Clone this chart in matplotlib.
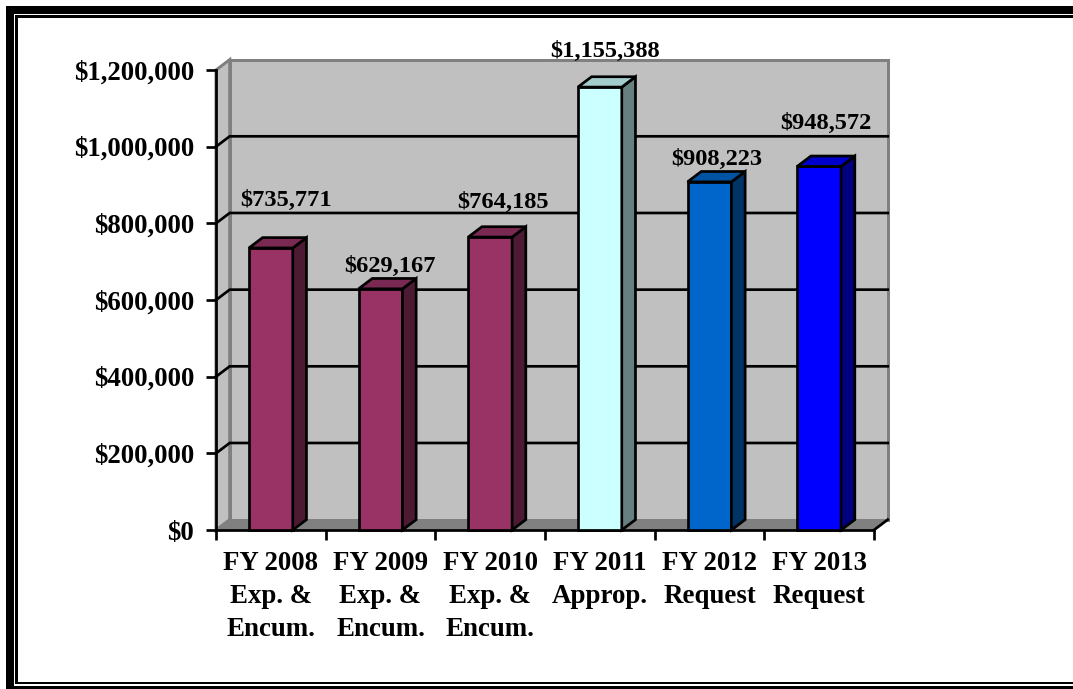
import matplotlib
matplotlib.use("Agg")
import matplotlib.pyplot as plt
from matplotlib.patches import Polygon, Rectangle

plt.rcParams["font.family"] = ["Liberation Serif", "DejaVu Serif"]
plt.rcParams["font.weight"] = "bold"

# --------------------------------------------------------------
# Data
# --------------------------------------------------------------
categories = ["FY 2008\nExp. &\nEncum.", "FY 2009\nExp. &\nEncum.", "FY 2010\nExp. &\nEncum.",
              "FY 2011\nApprop.", "FY 2012\nRequest", "FY 2013\nRequest"]
values = [735771, 629167, 764185, 1155388, 908223, 948572]
y_ticks = [0, 200000, 400000, 600000, 800000, 1000000, 1200000]

# front, side, top
bar_colors = [("#993366", "#4d1a33", "#7a2952"), ("#993366", "#4d1a33", "#7a2952"),
              ("#993366", "#4d1a33", "#7a2952"), ("#ccffff", "#668080", "#a3cccc"),
              ("#0066cc", "#003366", "#0052a3"), ("#0000ff", "#000080", "#0000cc")]
# label offset from the bar's top centre, in pixels
label_offsets = [(15, 48), (9, 22), (13, 35), (5, 36), (7, 22), (7, 43)]

W, H = 1073, 689
PT = 72 / 100  # one pixel in points
LINE = 2.7 * PT
DEPTH_X = 0.125  # in categories
DEPTH_Y = 27000  # in dollars
BAR_W = 0.4

fig = plt.figure(figsize=(W / 100, H / 100), dpi=100)
ax = fig.add_axes([216 / W, 1 - 530 / H, 658 / W, 460 / H])
ax.set_xlim(0, 6)
ax.set_ylim(0, 1200000)
ax.patch.set_visible(False)
for s in ax.spines.values():
    s.set_visible(False)

# page frame
def frame(x0, y0, x1, y1):
    fig.add_artist(Rectangle((x0 / W, 1 - y1 / H), (x1 - x0) / W, (y1 - y0) / H, transform=fig.transFigure,
                             facecolor="black", edgecolor="none"))

frame(6, 6, W, 14)
frame(15, 15.5, W, 17.5)
frame(6, 6, 14, H)
frame(15, 15.5, 17.5, 684)
frame(15, 682, W, 684)
frame(6, 686, W, H)

top = y_ticks[-1]
wall = dict(facecolor="#c0c0c0", edgecolor="#808080", linewidth=3 * PT, clip_on=False, joinstyle="miter")

# back wall, side wall and floor
ax.add_patch(Polygon([(DEPTH_X, DEPTH_Y), (6 + DEPTH_X, DEPTH_Y), (6 + DEPTH_X, top + DEPTH_Y), (DEPTH_X, top + DEPTH_Y)],
                     zorder=1, **wall))
ax.add_patch(Polygon([(0, 0), (DEPTH_X, DEPTH_Y), (DEPTH_X, top + DEPTH_Y), (0, top)], zorder=1, **wall))
ax.add_patch(Polygon([(0, 0), (6, 0), (6 + DEPTH_X, DEPTH_Y), (DEPTH_X, DEPTH_Y)], zorder=1.5,
                     facecolor="#808080", edgecolor="#808080", linewidth=1 * PT, clip_on=False))

# gridlines run along both walls
for t in y_ticks[1:-1]:
    ax.plot([0, DEPTH_X, 6 + DEPTH_X], [t, t + DEPTH_Y, t + DEPTH_Y], color="black", lw=LINE,
            solid_joinstyle="miter", clip_on=False, zorder=2)

# axis lines
ax.plot([0, 0], [0, top], color="black", lw=LINE, clip_on=False, zorder=3)
ax.plot([0, 6], [0, 0], color="black", lw=LINE, clip_on=False, zorder=3)
ax.plot([6, 6 + DEPTH_X], [0, DEPTH_Y], color="black", lw=LINE, clip_on=False, zorder=3)

# bars
for i, (v, c) in enumerate(zip(values, bar_colors)):
    x0 = i + 0.5 - BAR_W / 2
    x1 = i + 0.5 + BAR_W / 2
    ax.bar(i + 0.5, v, BAR_W, color=c[0], edgecolor="black", linewidth=LINE, zorder=4, clip_on=False)
    ax.add_patch(Polygon([(x1, 0), (x1 + DEPTH_X, DEPTH_Y), (x1 + DEPTH_X, v + DEPTH_Y), (x1, v)], facecolor=c[1],
                         edgecolor="black", linewidth=LINE, zorder=4, clip_on=False))
    ax.add_patch(Polygon([(x0, v), (x1, v), (x1 + DEPTH_X, v + DEPTH_Y), (x0 + DEPTH_X, v + DEPTH_Y)], facecolor=c[2],
                         edgecolor="black", linewidth=LINE, zorder=4, clip_on=False))
    off = label_offsets[i]
    ax.annotate(f"${v:,}", (i + 0.5, v), xytext=(off[0] * PT, off[1] * PT), textcoords="offset points",
                ha="center", va="center", fontsize=17.6, zorder=6, annotation_clip=False)

# ticks
ax.set_yticks(y_ticks)
ax.set_yticklabels([f"${t:,}" for t in y_ticks], fontsize=19.4)
ax.tick_params(axis="y", length=10 * PT, width=LINE, pad=12 * PT)
ax.set_xticks(range(7))
ax.set_xticklabels([])
ax.tick_params(axis="x", which="major", length=10 * PT, width=LINE)
ax.set_xticks([i + 0.5 for i in range(6)], minor=True)
ax.set_xticklabels(categories, minor=True, fontsize=19.4, linespacing=1.42)
ax.tick_params(axis="x", which="minor", length=0, pad=21 * PT)

fig.savefig("out.png", dpi=100)
